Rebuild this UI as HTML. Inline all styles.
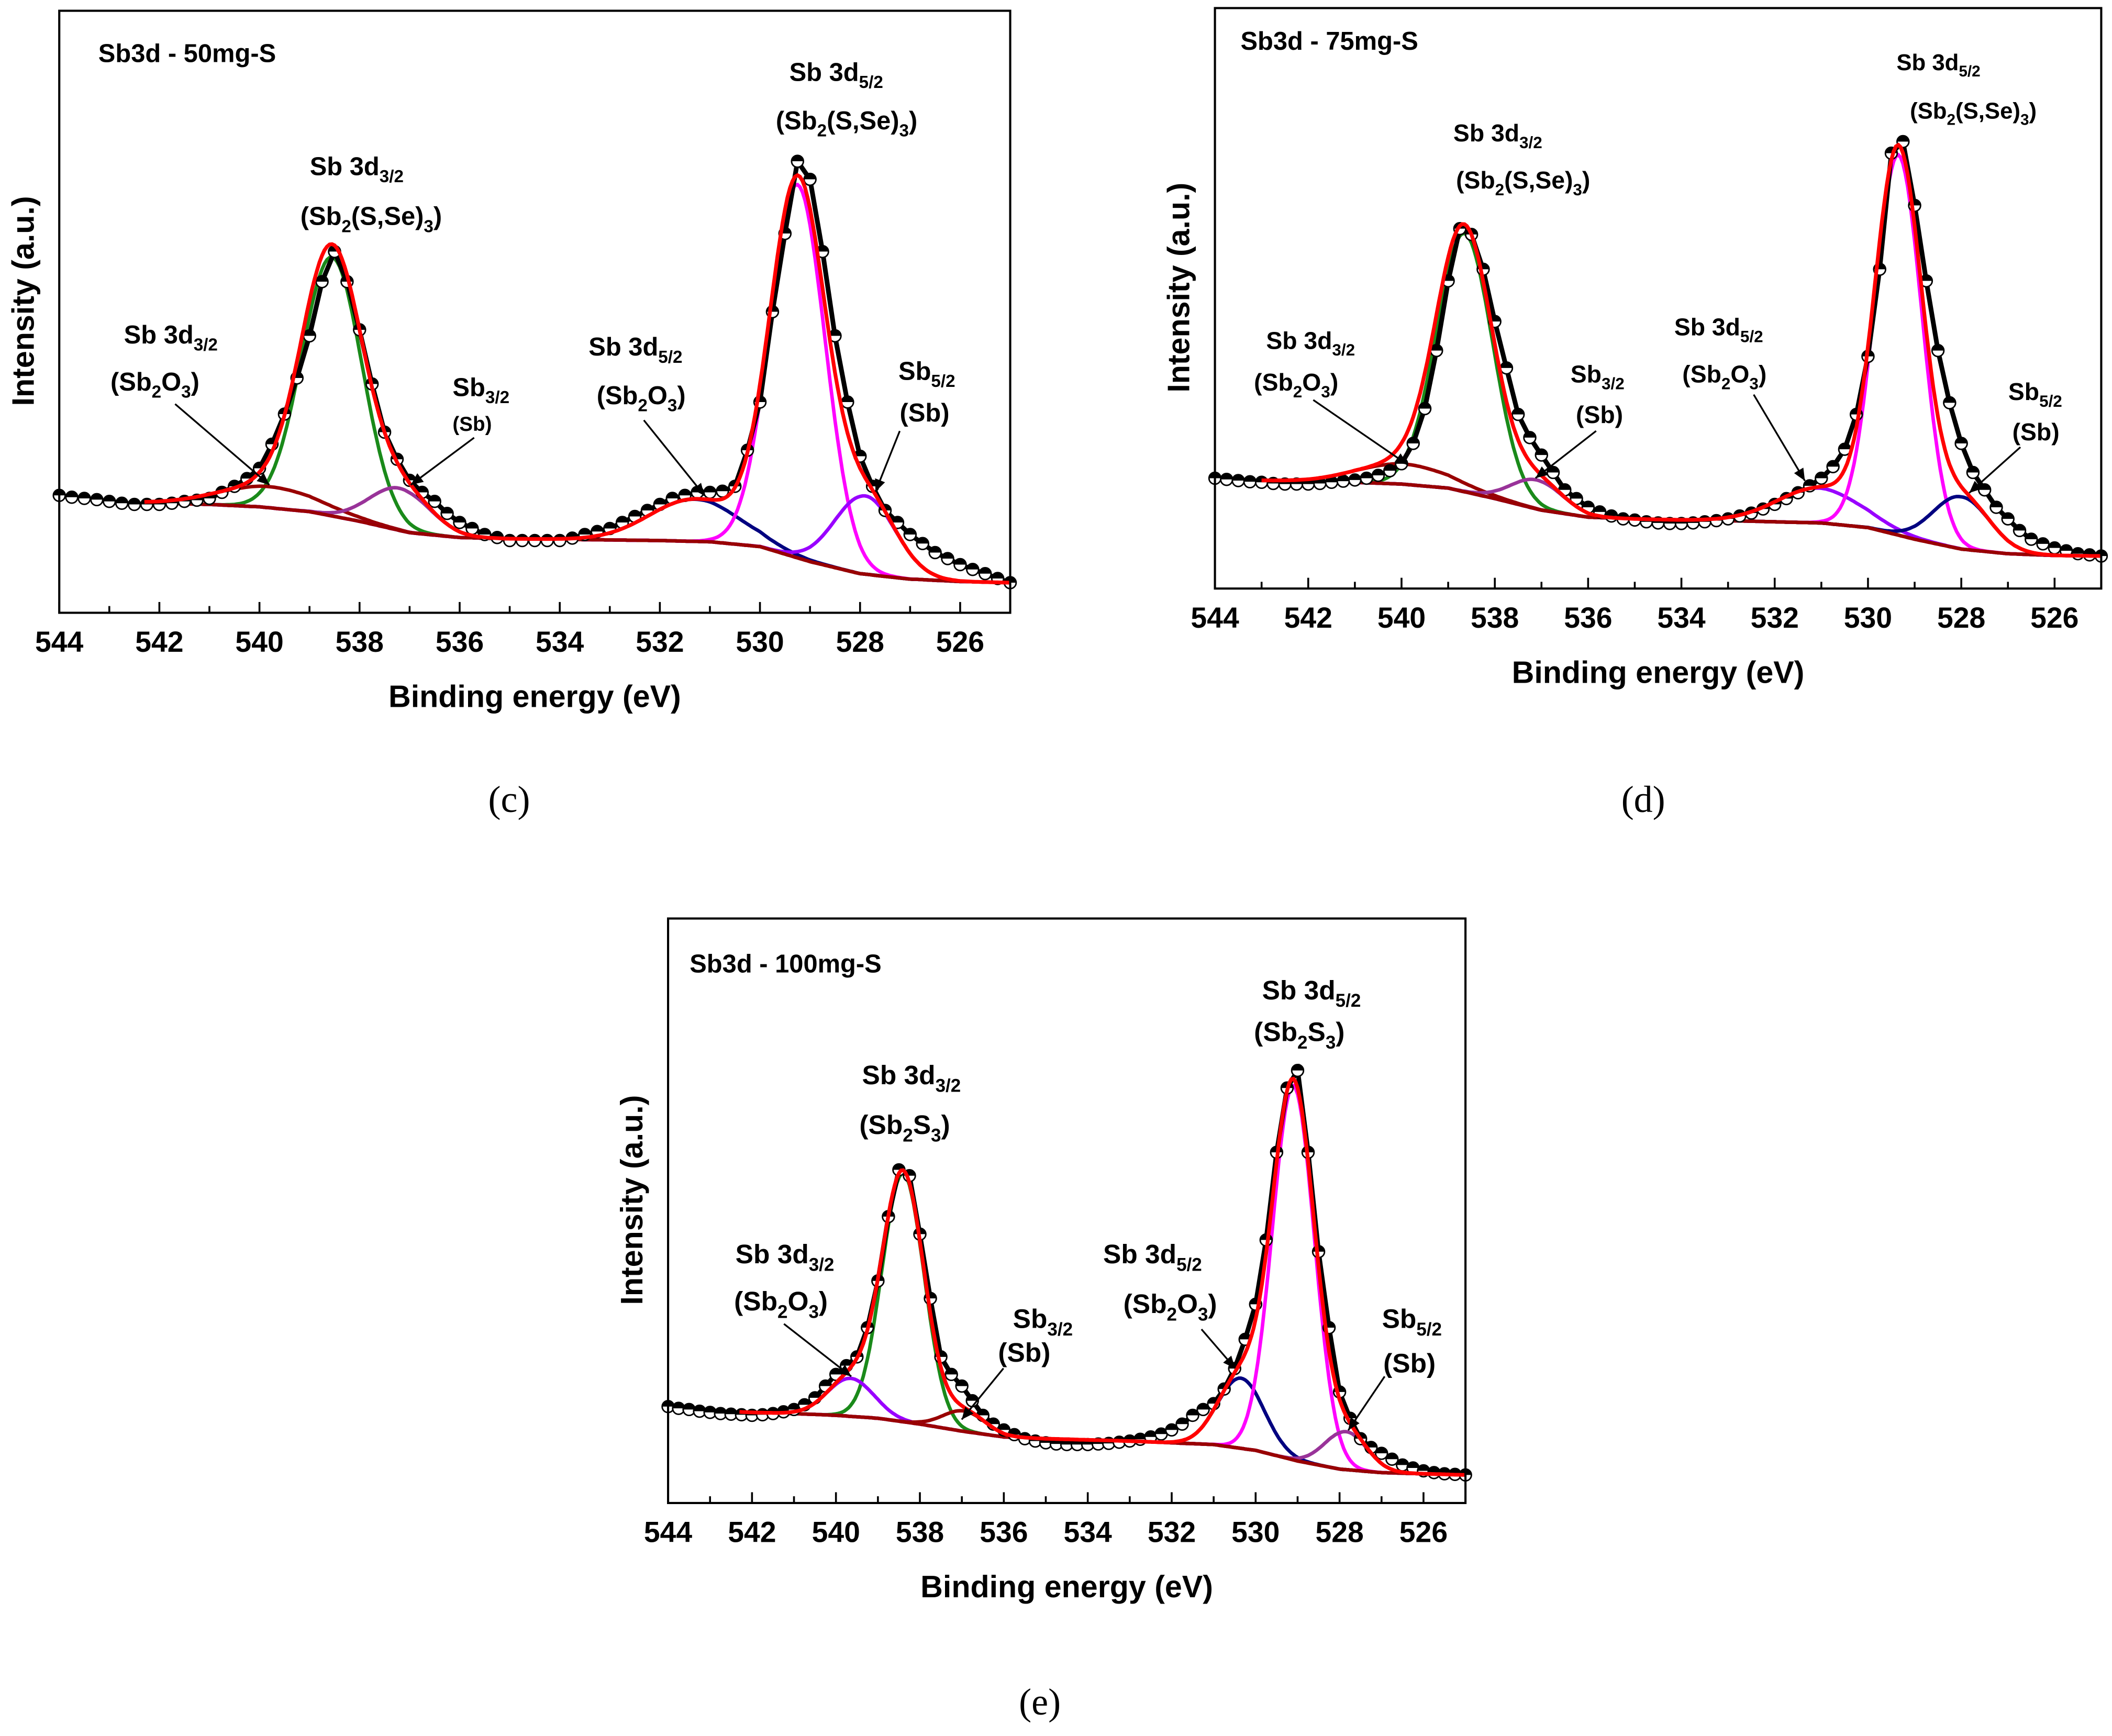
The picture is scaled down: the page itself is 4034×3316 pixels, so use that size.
<!DOCTYPE html>
<html><head><meta charset="utf-8"><style>
html,body{margin:0;padding:0;background:#fff;}
svg{display:block;}
text{font-family:"Liberation Sans",Arial,sans-serif;font-weight:bold;fill:#000;}
</style></head><body>
<svg id="fig" xmlns="http://www.w3.org/2000/svg" width="4034" height="3316" viewBox="0 0 1568 1289" preserveAspectRatio="none"></svg>
<script>
// ---- data (energies in eV, intensities in % of plot height) ----
// data sampled every 0.25 eV starting at 544 eV
const dataStart = 544;
const dataStep = 0.25;
const bgEnergies = [544,543,542,541,540,539,538,537,536,535,534,533,532,531,530,529,528,527,526,525];
const tickValues = [544,542,540,538,536,534,532,530,528,526];

const dataC = [19.5,19.2,19,18.8,18.5,18.2,18,18,18,18.2,18.5,18.7,19,20,21,22.3,24,28,33,39,46,55,60,55,47,38,30,25.5,22,20,18.5,16.5,15,14,13,12.5,12,12,12,12,12,12.4,13,13.5,14,15,16,17,18,19,19.5,20,20,20.2,21,27,35,50,63,75,72,60,46,35,26,21,17,15,13,11.5,10,9,8,7.2,6.5,5.7,5];
const bgC = [18.5,18.4,18.2,18,17.6,16.8,15.2,13.3,12.5,12.3,12.2,12.1,12,11.8,11,8.5,6.5,5.6,5.2,5.0];
const centersC = [538.55,539.8,537.2,531.3,529.25,527.9];
const heightsC = [43,3.5,7,7,62,13];
const sigmasC = [0.6,1.0,0.6,0.9,0.55,0.6];
const colorsC = ["#1a8a1a","#990000","#993399","#000080","#ff00ff","#9900ff"];

const dataD = [19,18.8,18.6,18.4,18.3,18.1,18,18,18,18.1,18.3,18.5,18.7,19,19.5,20.3,21.5,25,31,41,53,62,61,55,46,38,30,26,23,20,17,15.5,14,13.2,12.5,12,11.8,11.5,11.3,11.2,11.2,11.3,11.5,11.7,12,12.5,13,13.7,14.5,15.5,16.5,17.7,19,21,24,30,40,55,75,77,66,53,41,32,25,20,17,14,12,10,8.5,7.7,7,6.5,6,5.8,5.6];
const bgD = [18.8,18.6,18.4,18.3,18,17.3,15.5,13.5,12.3,12,11.8,11.7,11.5,11.3,10.5,8.5,6.8,6,5.7,5.6];
const centersD = [538.65,539.95,537.1,531.05,529.35,528.0];
const heightsD = [44.5,3.5,5,6,65.5,9];
const sigmasD = [0.6,1.0,0.55,0.9,0.5,0.6];
const colorsD = ["#1a8a1a","#990000","#993399","#9900ff","#ff00ff","#000080"];

const dataE = [16.5,16.2,16,15.7,15.5,15.3,15.2,15.1,15,15.1,15.3,15.6,16,16.8,18,20,22,23.5,25,30,38,49,57,56,46,35,25,22,20,17.5,15,13.5,12.5,11.7,11,10.6,10.3,10.1,10,10,10,10.1,10.2,10.4,10.6,10.9,11.3,11.8,12.5,13.5,15,16,17,19.5,23,28,34,45,60,71,74,60,43,30,19,14.5,11,9.5,8.5,7.5,6.5,6,5.5,5.2,5,4.9,4.8];
const bgE = [16,15.8,15.5,15.3,15,14.5,13.5,12.3,11.3,11,10.8,10.6,10.3,10,9,7.2,5.8,5.2,5,4.8];
const centersE = [538.4,539.65,536.95,530.35,529.1,527.85];
const heightsE = [42.5,6.5,3.5,12,64,6.5];
const sigmasE = [0.5,0.55,0.5,0.55,0.5,0.5];
const colorsE = ["#1a8a1a","#9900ff","#990000","#000080","#ff00ff","#993399"];

const NS="http://www.w3.org/2000/svg";
const svg=document.getElementById('fig');
function mk(tag,attrs,parent){const e=document.createElementNS(NS,tag);for(const k in attrs)e.setAttribute(k,attrs[k]);(parent||svg).appendChild(e);return e;}

function bgAt(bg,E){
  for(let i=0;i<bgEnergies.length-1;i++){const a=bgEnergies[i],b=bgEnergies[i+1];
    if(E<=a&&E>=b){const t=(a-E)/(a-b);return bg[i]+(bg[i+1]-bg[i])*t;}}
  return bg[bg.length-1];
}
function gauss(c,h,s,E){return h*Math.exp(-0.5*((E-c)/s)*((E-c)/s));}

function label(g,x,y,parts,size,name){
  const t=mk('text',{x:x,y:y,'font-size':size},g);
  
  
  parts.forEach(p=>{
    const ts=mk('tspan',{},t);
    if(p[1]==='sub'){ts.setAttribute('font-size',size*0.68);ts.setAttribute('dy',size*0.28);}
    else if(p[1]==='up'){ts.setAttribute('dy',-size*0.28);}
    ts.textContent=p[0];
  });
}
function arrow(g,x1,y1,x2,y2,name){
  const l=mk('line',{x1:x1,y1:y1,x2:x2,y2:y2,stroke:'#000','stroke-width':1.3},g);
  
  
  const ang=Math.atan2(y2-y1,x2-x1),L=9,W=4;
  const p=[[x2,y2],[x2-L*Math.cos(ang)+W*Math.sin(ang),y2-L*Math.sin(ang)-W*Math.cos(ang)],[x2-L*Math.cos(ang)-W*Math.sin(ang),y2-L*Math.sin(ang)+W*Math.cos(ang)]];
  const h=mk('polygon',{points:p.map(q=>q.join(',')).join(' '),fill:'#000'},g);
  
  
}

function panel(cfg){
  const g=mk('g',{});
  
  
  const X0=cfg.x0,X1=cfg.x1,Y0=cfg.y0,Y1=cfg.y1;
  const xS=E=>X0+(544-E)*(X1-X0)/19;
  const yS=v=>Y1-v*(Y1-Y0)/100;
  const eAt=i=>dataStart-i*dataStep;
  const step=0.05;
  const bgPts=[],sumPts=[];
  cfg.centers.forEach((c,i)=>{
    const pts=[];
    for(let E=cfg.start;E>=525-1e-9;E-=step){pts.push(xS(E).toFixed(1)+','+yS(bgAt(cfg.bg,E)+gauss(c,cfg.heights[i],cfg.sigmas[i],E)).toFixed(1));}
    const pl=mk('polyline',{points:pts.join(' '),fill:'none',stroke:cfg.colors[i],'stroke-width':2.6},g);
    
    
  });
  for(let E=cfg.start;E>=525-1e-9;E-=step){
    bgPts.push(xS(E).toFixed(1)+','+yS(bgAt(cfg.bg,E)).toFixed(1));
    let s=bgAt(cfg.bg,E);cfg.centers.forEach((c,i)=>{s+=gauss(c,cfg.heights[i],cfg.sigmas[i],E);});
    sumPts.push(xS(E).toFixed(1)+','+yS(s).toFixed(1));
  }
  const bl=mk('polyline',{points:bgPts.join(' '),fill:'none',stroke:'#990000','stroke-width':2.6},g);
  
  
  const dl=mk('polyline',{points:cfg.data.map((v,i)=>xS(eAt(i)).toFixed(1)+','+yS(v).toFixed(1)).join(' '),fill:'none',stroke:'#000','stroke-width':3.5},g);
  
  
  cfg.data.forEach((v,i)=>{
    const cx=xS(eAt(i)),cy=yS(v),r=4.4;
    const c=mk('circle',{cx:cx,cy:cy,r:r,fill:'#fff',stroke:'#000','stroke-width':1.1},g);
    
    
    const h=mk('path',{d:`M${cx-r},${cy} A${r},${r} 0 0 1 ${cx+r},${cy} Z`,fill:'#000'},g);
    
    
  });
  const sl=mk('polyline',{points:sumPts.join(' '),fill:'none',stroke:'#ff0000','stroke-width':2.8},g);
  
  
  const fr=mk('rect',{x:X0,y:Y0,width:X1-X0,height:Y1-Y0,fill:'none',stroke:'#000','stroke-width':1.6},g);
  
  
  for(let E=544;E>=525;E--){
    const major=(E%2===0);
    const tk=mk('line',{x1:xS(E),x2:xS(E),y1:Y1,y2:Y1-(major?8:5),stroke:'#000','stroke-width':1.4},g);
    
    
  }
  tickValues.forEach(v=>{
    const t=mk('text',{x:xS(v),y:Y1+29,'font-size':21.5,'text-anchor':'middle'},g);
    
    
    t.textContent=v;
  });
  const xt=mk('text',{x:(X0+X1)/2,y:Y1+70,'font-size':23,'text-anchor':'middle'},g);
  
  
  xt.textContent='Binding energy (eV)';
  const yt=mk('text',{x:0,y:0,'font-size':23,'text-anchor':'middle',transform:`translate(${X0-19},${(Y0+Y1)/2-8}) rotate(-90)`},g);
  
  
  yt.textContent='Intensity (a.u.)';
  const tt=mk('text',{x:cfg.titleX,y:cfg.titleY,'font-size':19},g);
  
  
  tt.textContent=cfg.title;
  const pl=mk('text',{x:cfg.capX,y:cfg.capY,'font-size':28,'text-anchor':'middle',style:'font-family:"Liberation Serif",serif;font-weight:normal'},g);
  
  
  pl.textContent=cfg.cap;
  cfg.labels(g);
}

panel({id:'c',x0:44,x1:750,y0:8,y1:455,start:542.3,data:dataC,bg:bgC,centers:centersC,heights:heightsC,sigmas:sigmasC,colors:colorsC,
  title:'Sb3d - 50mg-S',titleX:73,titleY:46,cap:'(c)',capX:378,capY:603,
  labels:g=>{
    label(g,586,60,[['Sb 3d'],['5/2','sub']],19,'label-sb3d52-main');
    label(g,576,96,[['(Sb'],['2','sub'],['(S,Se)','up'],['3','sub'],[')','up']],19,'label-sb2sse3-52');
    label(g,230,130,[['Sb 3d'],['3/2','sub']],19,'label-sb3d32-main');
    label(g,223,167,[['(Sb'],['2','sub'],['(S,Se)','up'],['3','sub'],[')','up']],19,'label-sb2sse3-32');
    label(g,92,255,[['Sb 3d'],['3/2','sub']],19,'label-sb3d32-oxide');
    label(g,82,290,[['(Sb'],['2','sub'],['O','up'],['3','sub'],[')','up']],19,'label-sb2o3-32');
    label(g,336,294,[['Sb'],['3/2','sub']],19,'label-sb-32');
    label(g,336,320,[['(Sb)']],15,'label-sb-metal-32');
    label(g,437,264,[['Sb 3d'],['5/2','sub']],19,'label-sb3d52-oxide');
    label(g,443,300,[['(Sb'],['2','sub'],['O','up'],['3','sub'],[')','up']],19,'label-sb2o3-52');
    label(g,667,282,[['Sb'],['5/2','sub']],19,'label-sb-52');
    label(g,668,313,[['(Sb)']],19,'label-sb-metal-52');
    arrow(g,130,300,200,360,'arrow-sb2o3-32');
    arrow(g,352,325,305,360,'arrow-sb-32');
    arrow(g,478,312,523,368,'arrow-sb2o3-52');
    arrow(g,668,320,650,365,'arrow-sb-52');
  }});
panel({id:'d',x0:902,x1:1560,y0:6,y1:437,start:543,data:dataD,bg:bgD,centers:centersD,heights:heightsD,sigmas:sigmasD,colors:colorsD,
  title:'Sb3d - 75mg-S',titleX:921,titleY:37,cap:'(d)',capX:1220,capY:603,
  labels:g=>{
    label(g,1408,52,[['Sb 3d'],['5/2','sub']],17,'label-sb3d52-main');
    label(g,1418,88,[['(Sb'],['2','sub'],['(S,Se)','up'],['3','sub'],[')','up']],17,'label-sb2sse3-52');
    label(g,1079,105,[['Sb 3d'],['3/2','sub']],18,'label-sb3d32-main');
    label(g,1081,140,[['(Sb'],['2','sub'],['(S,Se)','up'],['3','sub'],[')','up']],18,'label-sb2sse3-32');
    label(g,940,259,[['Sb 3d'],['3/2','sub']],18,'label-sb3d32-oxide');
    label(g,931,290,[['(Sb'],['2','sub'],['O','up'],['3','sub'],[')','up']],18,'label-sb2o3-32');
    label(g,1166,284,[['Sb'],['3/2','sub']],18,'label-sb-32');
    label(g,1170,314,[['(Sb)']],18,'label-sb-metal-32');
    label(g,1243,249,[['Sb 3d'],['5/2','sub']],18,'label-sb3d52-oxide');
    label(g,1249,284,[['(Sb'],['2','sub'],['O','up'],['3','sub'],[')','up']],18,'label-sb2o3-52');
    label(g,1491,297,[['Sb'],['5/2','sub']],18,'label-sb-52');
    label(g,1494,327,[['(Sb)']],18,'label-sb-metal-52');
    arrow(g,975,297,1045,345,'arrow-sb2o3-32');
    arrow(g,1185,320,1140,355,'arrow-sb-32');
    arrow(g,1302,293,1340,357,'arrow-sb2o3-52');
    arrow(g,1500,332,1462,366,'arrow-sb-52');
  }});
panel({id:'e',x0:496,x1:1088,y0:682,y1:1116,start:542.3,data:dataE,bg:bgE,centers:centersE,heights:heightsE,sigmas:sigmasE,colors:colorsE,
  title:'Sb3d - 100mg-S',titleX:512,titleY:722,cap:'(e)',capX:772,capY:1273,
  labels:g=>{
    label(g,937,742,[['Sb 3d'],['5/2','sub']],20,'label-sb3d52-main');
    label(g,931,773,[['(Sb'],['2','sub'],['S','up'],['3','sub'],[')','up']],20,'label-sb2s3-52');
    label(g,640,805,[['Sb 3d'],['3/2','sub']],20,'label-sb3d32-main');
    label(g,638,842,[['(Sb'],['2','sub'],['S','up'],['3','sub'],[')','up']],20,'label-sb2s3-32');
    label(g,546,938,[['Sb 3d'],['3/2','sub']],20,'label-sb3d32-oxide');
    label(g,545,973,[['(Sb'],['2','sub'],['O','up'],['3','sub'],[')','up']],20,'label-sb2o3-32');
    label(g,752,986,[['Sb'],['3/2','sub']],20,'label-sb-32');
    label(g,741,1011,[['(Sb)']],20,'label-sb-metal-32');
    label(g,819,938,[['Sb 3d'],['5/2','sub']],20,'label-sb3d52-oxide');
    label(g,834,975,[['(Sb'],['2','sub'],['O','up'],['3','sub'],[')','up']],20,'label-sb2o3-52');
    label(g,1026,986,[['Sb'],['5/2','sub']],20,'label-sb-52');
    label(g,1027,1019,[['(Sb)']],20,'label-sb-metal-52');
    arrow(g,582,983,632,1022,'arrow-sb2o3-32');
    arrow(g,745,1016,714,1054,'arrow-sb-32');
    arrow(g,892,987,917,1016,'arrow-sb2o3-52');
    arrow(g,1028,1022,1001,1062,'arrow-sb-52');
  }});
</script>
</body></html>
